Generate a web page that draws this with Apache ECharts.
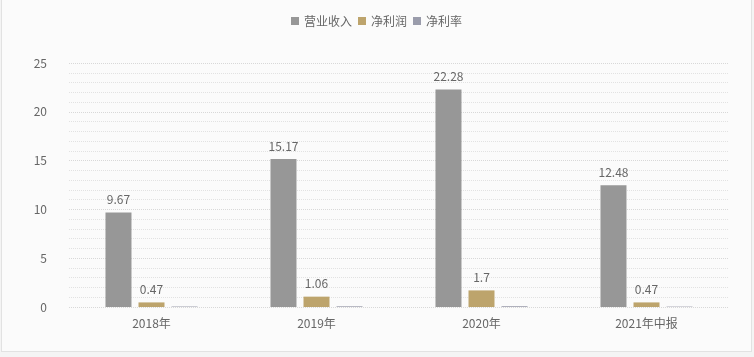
<!DOCTYPE html>
<html><head><meta charset="utf-8">
<script src="https://cdn.jsdelivr.net/npm/echarts@6/dist/echarts.min.js"></script>
<style>
html,body{margin:0;padding:0;background:#f4f4f4;}
#c{position:absolute;left:1px;top:-1px;width:751px;height:353px;background:#fbfbfb;border:1px solid #e2e2e2;box-sizing:border-box;}
</style></head><body>
<div id="c"></div>
<script>
const categories = ['2018年','2019年','2020年','2021年中报'];
const revenue = [9.67, 15.17, 22.28, 12.48];
const netProfit = [0.47, 1.06, 1.7, 0.47];
const netMargin = [0.05, 0.07, 0.08, 0.04];
const seriesNames = ['营业收入','净利润','净利率'];
const yTicks = {min:0, max:25, interval:5};

const chart = echarts.init(document.getElementById('c'));
const font = '"Noto Sans CJK SC", "Microsoft YaHei", sans-serif';
const lbl = {show:true, position:'top', distance:7, color:'#666', fontSize:12, fontFamily:font};
chart.setOption({
  animation:false,
  color:['#979797','#bda46c','#9a9cab'],
  legend:{top:10, left:'center', itemWidth:8, itemHeight:8, itemGap:6, icon:'rect',
    textStyle:{color:'#666', fontSize:12, fontFamily:font}, data:seriesNames},
  grid:{left:67, right:22, top:63, bottom:44},
  xAxis:{type:'category', data:categories,
    axisLine:{show:false}, axisTick:{show:false},
    axisLabel:{color:'#666', fontSize:12, fontFamily:font, margin:10}},
  yAxis:{type:'value', min:yTicks.min, max:yTicks.max, interval:yTicks.interval,
    axisLine:{show:false}, axisTick:{show:false},
    axisLabel:{color:'#666', fontSize:12, fontFamily:font, margin:22},
    splitLine:{lineStyle:{color:'#d8d8d8', type:'dotted'}},
    minorTick:{show:false, splitNumber:5},
    minorSplitLine:{show:true, lineStyle:{color:'#e2e2e2', type:'dotted'}}},
  series:[
    {name:seriesNames[0], type:'bar', data:revenue, barWidth:26, barGap:'27%', barCategoryGap:'44%', label:lbl},
    {name:seriesNames[1], type:'bar', data:netProfit, barWidth:26, label:lbl},
    {name:seriesNames[2], type:'bar', data:netMargin, barWidth:26, label:{show:false}}
  ]
});
</script>
</body></html>
